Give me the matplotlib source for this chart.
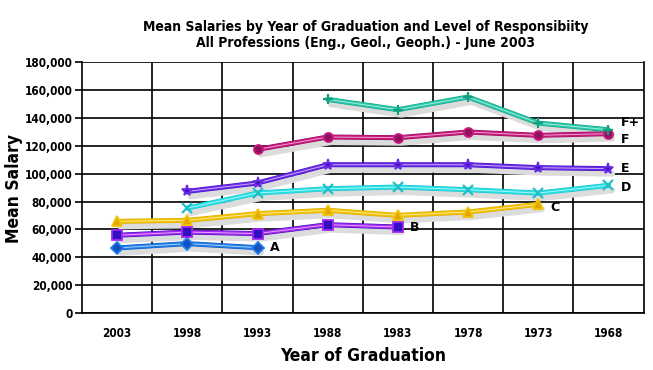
import matplotlib.pyplot as plt
import matplotlib.patheffects as pe
import numpy as np

# data
years = ['2003', '1998', '1993', '1988', '1983', '1978', '1973', '1968']
level_a = [46700, 49800, 46900, None, None, None, None, None]
level_b = [55800, 58100, 57000, 63400, 61700, None, None, None]
level_c = [65800, 66500, 71300, 73700, 70100, 72500, 78000, None]
level_d = [None, 75300, 86100, 89200, 90400, 88500, 86100, 91600]
level_e = [None, 87300, 93300, 106400, 106400, 106400, 104300, 103600]
level_f = [None, None, 117400, 126300, 125800, 129900, 127500, 128700]
level_fplus = [None, None, None, 153300, 145900, 155000, 136300, 131500]

# name, values, line colour, marker, marker colour, label nudge
series = [
    ('A', level_a, '#1f7fe6', 'D', '#1550c0', 0),
    ('B', level_b, '#a626f0', 's', '#3010c0', 0),
    ('C', level_c, '#f2c300', '^', '#e0a800', -2500),
    ('D', level_d, '#26e0e6', 'x', '#20c0c8', -1500),
    ('E', level_e, '#6a2ae6', '*', '#4010c0', 0),
    ('F', level_f, '#c8187e', 'o', '#901060', -4500),
    ('F+', level_fplus, '#26c8a8', '+', '#10a080', 5000),
]

cond = dict(family='DejaVu Sans', fontstretch='condensed', fontweight='bold')

fig = plt.figure(figsize=(6.53, 3.70), dpi=100)
ax = fig.add_axes([0.1256, 0.154, 0.86, 0.678])

x = np.arange(len(years))
for name, vals, col, mk, edge, nudge in series:
    idx = [i for i, v in enumerate(vals) if v is not None]
    xs = x[idx]
    ys = np.array([vals[i] for i in idx], dtype=float)
    # grey drop shadow
    ax.plot(xs + 0.05, ys - 3500, color='#dcdcdc', lw=4.5, solid_capstyle='round', zorder=2)
    ax.plot(xs, ys, color=col, lw=2.8, solid_capstyle='round', zorder=3,
            path_effects=[pe.Stroke(linewidth=3.6, foreground=edge), pe.Normal()])
    ax.plot(xs, ys, color='white', lw=0.7, alpha=0.6, zorder=4)
    if mk in ('x', '+'):
        ax.plot(xs, ys, ls='none', marker=mk, ms=7, mew=1.6, color=edge, zorder=5)
    else:
        ax.plot(xs, ys, ls='none', marker=mk, ms=6.5 if mk != '*' else 8, mfc=edge,
                mec=col, mew=1.3, zorder=5)
    ax.text(xs[-1] + 0.17, ys[-1] + nudge, name, fontsize=9, fontweight='bold',
            va='center', ha='left', zorder=6)

ax.set_xlim(-0.5, len(years) - 0.5)
ax.set_ylim(0, 180000)
ax.set_yticks(np.arange(0, 180001, 20000))
ax.set_yticklabels([f'{v:,}' for v in range(0, 180001, 20000)], fontsize=8.5, **cond)
ax.set_xticks(x)
ax.set_xticklabels(years, fontsize=8.5, **cond)
ax.set_xticks(np.arange(0.5, len(years) - 1, 1), minor=True)
ax.tick_params(axis='x', which='both', length=0, pad=10)
ax.tick_params(axis='y', length=5, width=1.2, color='black', pad=2)
ax.grid(axis='y', color='black', lw=1.2)
ax.grid(axis='x', which='minor', color='black', lw=1.2)
ax.set_axisbelow(True)
ax.spines['top'].set_visible(False)
for s in ['left', 'bottom', 'right']:
    ax.spines[s].set_linewidth(1.2)

ax.set_xlabel('Year of Graduation', fontsize=12.5, labelpad=5, **cond)
fig.text(0.022, 0.49, 'Mean Salary', rotation=90, fontsize=12.5, va='center',
         ha='center', **cond)
fig.text(0.56, 0.945, 'Mean Salaries by Year of Graduation and Level of Responsibiity\n'
         'All Professions (Eng., Geol., Geoph.) - June 2003',
         fontsize=10, va='top', ha='center', linespacing=1.15, multialignment='center',
         **cond)

fig.savefig('out.png', dpi=100)
